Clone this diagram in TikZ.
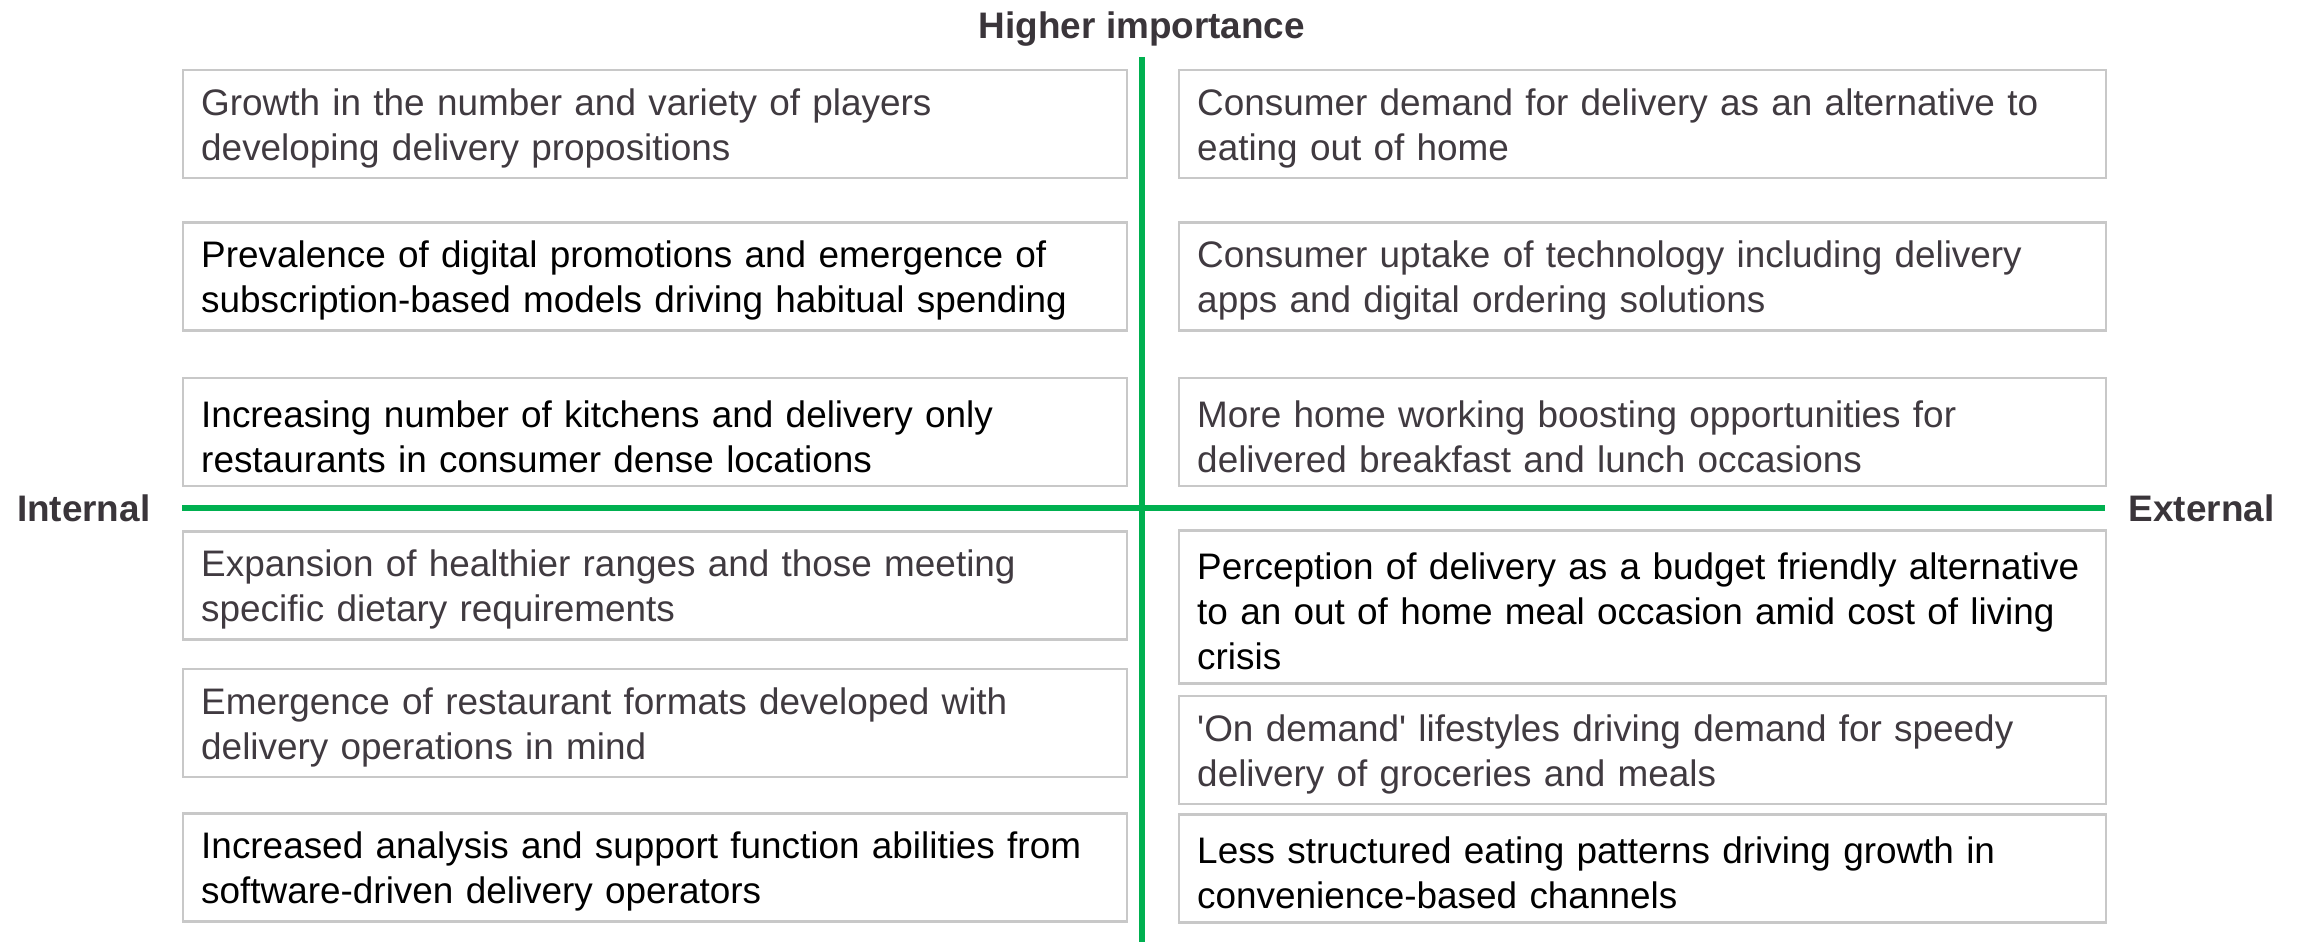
\documentclass[tikz,border=0pt]{standalone}
\usepackage{fontspec}
\setmainfont{Liberation Sans}
\usepackage{xcolor}
\usepackage{tikz}
\usetikzlibrary{positioning}
\definecolor{axisgreen}{RGB}{0,176,80}
\definecolor{boxgrey}{RGB}{200,200,200}
\definecolor{textgrey}{RGB}{64,58,64}
\definecolor{labelgrey}{RGB}{58,53,58}
\newcommand{\driverfont}{\fontsize{10.5pt}{12.8pt}\selectfont}
\tikzset{
  driver/.style={draw=boxgrey,line width=0.7pt,fill=white,text=textgrey,
    inner xsep=1.8mm,inner ysep=0pt,minimum height=10.8mm,align=left,
    font=\driverfont,execute at begin node={\rule{0pt}{10pt}}},
  keydriver/.style={driver,text=black},
  leftbox/.style={text width=90.8mm},
  rightbox/.style={text width=89.1mm},
  axis/.style={draw=axisgreen,line width=1.6pt},
  axislabel/.style={font=\driverfont\bfseries,text=labelgrey,inner sep=0pt}
}

\begin{document}
\begin{tikzpicture}
  \useasboundingbox (0,0) rectangle (23,-9.42);
  \coordinate (ytop) at (11.42,-0.57);
  \coordinate (ybot) at (11.42,-9.42);
  \coordinate (xwest) at (1.82,-5.08);
  \coordinate (xeast) at (21.05,-5.08);
  \draw[axis] (ytop) -- (ybot);
  \draw[axis] (xwest) -- (xeast);
  \node[axislabel,above=1mm of ytop] (higher) {Higher importance};
  \node[axislabel,left=3.1mm of xwest] (internal) {Internal};
  \node[axislabel,right=2.3mm of xeast] (external) {External};
  % internal drivers
  \node[driver,leftbox,anchor=north west] (l1) at (1.82,-0.69)
    {Growth in the number and variety of players\\developing delivery propositions};
  \node[keydriver,leftbox,below=4.2mm of l1] (l2)
    {Prevalence of digital promotions and emergence of\\subscription-based models driving habitual spending};
  \node[keydriver,leftbox,below=4.5mm of l2] (l3)
    {Increasing number of kitchens and delivery only\\restaurants in consumer dense locations};
  \node[driver,leftbox,below=4.3mm of l3] (l4)
    {Expansion of healthier ranges and those meeting\\specific dietary requirements};
  \node[driver,leftbox,below=2.7mm of l4] (l5)
    {Emergence of restaurant formats developed with\\delivery operations in mind};
  \node[keydriver,leftbox,below=3.4mm of l5] (l6)
    {Increased analysis and support function abilities from\\software-driven delivery operators};
  % external drivers
  \node[driver,rightbox,anchor=north west] (r1) at (11.78,-0.69)
    {Consumer demand for delivery as an alternative to\\eating out of home};
  \node[driver,rightbox,below=4.2mm of r1] (r2)
    {Consumer uptake of technology including delivery\\apps and digital ordering solutions};
  \node[driver,rightbox,below=4.5mm of r2] (r3)
    {More home working boosting opportunities for\\delivered breakfast and lunch occasions};
  \node[keydriver,rightbox,minimum height=15.3mm,below=4.2mm of r3] (r4)
    {Perception of delivery as a budget friendly alternative\\to an out of home meal occasion amid cost of living\\crisis};
  \node[driver,rightbox,below=1mm of r4] (r5)
    {\textquotesingle On demand\textquotesingle{} lifestyles driving demand for speedy\\delivery of groceries and meals};
  \node[keydriver,rightbox,below=0.8mm of r5] (r6)
    {Less structured eating patterns driving growth in\\convenience-based channels};
\end{tikzpicture}
\end{document}
